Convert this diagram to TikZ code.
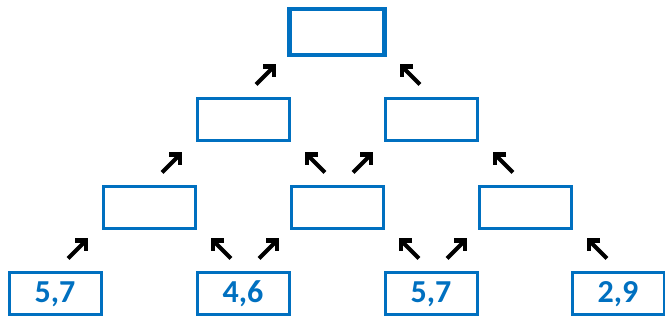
\documentclass[tikz,border=0pt]{standalone}
\usepackage{fontspec}
\setmainfont{Carlito}
\usepackage{xcolor}
\definecolor{boxblue}{HTML}{0070C0}
\tikzset{
  cell/.style={draw=boxblue,line width=3pt,minimum width=92pt,minimum height=42pt,inner sep=0pt,
    text=boxblue,font=\bfseries\fontsize{32}{32}\selectfont},
  rootcell/.style={cell,line width=4.2pt,minimum width=95pt,minimum height=46pt},
  arrowline/.style={line width=4.2pt,line join=miter,black},
  nearr/.pic={
    \draw[arrowline] (-9,-9) -- (9,9);
    \draw[arrowline] (-2,9) -- (9,9) -- (9,-2);
  },
  nwarr/.pic={
    \draw[arrowline] (9,-9) -- (-9,9);
    \draw[arrowline] (2,9) -- (-9,9) -- (-9,-2);
  }
}
\begin{document}
\begin{tikzpicture}[x=1pt,y=1pt]
  \useasboundingbox (0,0) rectangle (665,320);
  % boxes, top to bottom
  \node[rootcell] (top) at (337,288) {};
  \node[cell] (m1) at (243,200) {};
  \node[cell] (m2) at (431,200) {};
  \node[cell] (l1) at (149,112) {};
  \node[cell] (l2) at (337,112) {};
  \node[cell] (l3) at (525,112) {};
  \node[cell] (b1) at (55,26) {5,7};
  \node[cell] (b2) at (243,26) {4,6};
  \node[cell] (b3) at (431,26) {5,7};
  \node[cell] (b4) at (618,26) {2,9};
  % arrows above the boxes
  \pic at ([shift={(22,22)}]m1.north) {nearr};
  \pic at ([shift={(-20,22)}]m2.north) {nwarr};
  \pic at ([shift={(22,22)}]l1.north) {nearr};
  \pic at ([shift={(-21,22)}]l2.north) {nwarr};
  \pic at ([shift={(25,22)}]l2.north) {nearr};
  \pic at ([shift={(-21,22)}]l3.north) {nwarr};
  \pic at ([shift={(22,22)}]b1.north) {nearr};
  \foreach \cellname in {b2,b3} {
    \pic at ([shift={(-21,22)}]\cellname.north) {nwarr};
    \pic at ([shift={(25,22)}]\cellname.north) {nearr};
  }
  \pic at ([shift={(-20,22)}]b4.north) {nwarr};
\end{tikzpicture}
\end{document}
